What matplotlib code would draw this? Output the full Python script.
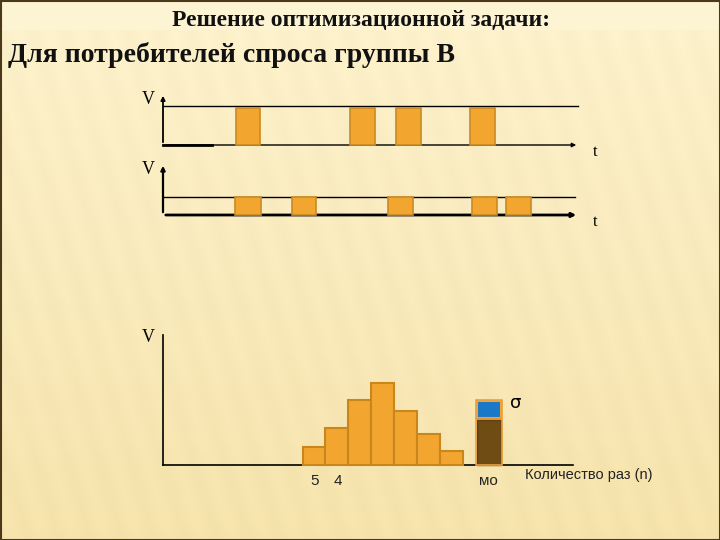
import numpy as np
import matplotlib
matplotlib.use("Agg")
import matplotlib.pyplot as plt
from matplotlib.patches import Rectangle

# ---- data (in slide pixel units) ----
title_top = "Решение оптимизационной задачи:"
title_main = "Для потребителей спроса группы В"
# panel 1 pulses (start, end) along t
pulses1_start = [236, 350, 396, 470]
pulses1_end = [260, 375, 421, 495]
pulses1_level = 37
# panel 2 pulses
pulses2_start = [235, 292, 388, 472, 506]
pulses2_end = [261, 316, 413, 497, 531]
pulses2_level = 18
# histogram
hist_left = [303, 325, 348, 371, 394, 417, 440]
hist_width = 23
hist_heights = [18, 37, 65, 82, 54, 31, 14]
mo_left = 477
mo_width = 24
mo_height = 45
sigma_height = 17
x_labels = ["5", "4", "мо"]
x_label_pos = [315, 338, 488]
xlabel_text = "Количество раз (n)"

fig = plt.figure(figsize=(7.2, 5.4), dpi=100)
ax = fig.add_axes([0, 0, 1, 1])
ax.set_xlim(0, 720)
ax.set_ylim(540, 0)
ax.axis("off")

# background gradient with faint diagonal stripes
H, W = 540, 720
yy, xx = np.mgrid[0:H, 0:W]
t = yy / H
top = np.array([253, 242, 205]) / 255
bot = np.array([246, 227, 172]) / 255
img = top[None, None, :] * (1 - t[..., None]) + bot[None, None, :] * t[..., None]
stripe = 0.006 * np.sin((xx - yy * 0.3) / 5.0)
img = img + stripe[..., None] * (yy[..., None] > 30)
img[:30] = np.array([253, 244, 212]) / 255
img = np.clip(img, 0, 1)
ax.imshow(img, extent=[0, 720, 540, 0], zorder=0, aspect="auto")
ax.add_patch(Rectangle((0.5, 0.5), 719, 539, fill=False, ec="#4a3a1a", lw=1.5, zorder=1))

# titles
ax.text(361, 20, title_top, ha="center", va="center", fontsize=17,
        fontweight="bold", family="Liberation Serif", color="#111111", zorder=5)
ax.text(8, 55, title_main, ha="left", va="center", fontsize=20,
        fontweight="bold", family="Liberation Serif", color="#111111", zorder=5)

orange = "#F2A630"
oedge = "#C88A24"
serif = "Liberation Serif"

# ---- panel 1 ----
base1 = 145
ax.annotate("", xy=(163, 93), xytext=(163, base1),
            arrowprops=dict(arrowstyle="-|>", lw=1.3, color="black", mutation_scale=6), zorder=3)
ax.plot([163, 578], [106, 106], color="black", lw=1.0, zorder=3)
ax.annotate("", xy=(579, base1), xytext=(163, base1),
            arrowprops=dict(arrowstyle="-|>", lw=1.0, color="black", mutation_scale=6), zorder=3)
ax.plot([163, 212], [base1, base1], color="black", lw=2.0, zorder=3)
for s, e in zip(pulses1_start, pulses1_end):
    ax.add_patch(Rectangle((s, base1), e - s, -pulses1_level, fc=orange, ec=oedge, lw=1.2, zorder=4))
ax.text(148, 100, "V", ha="center", va="center", fontsize=13, family=serif, zorder=5)
ax.text(595, 152, "t", ha="center", va="center", fontsize=12, family=serif, zorder=5)

# ---- panel 2 ----
base2 = 215
ax.annotate("", xy=(163, 163), xytext=(163, base2),
            arrowprops=dict(arrowstyle="-|>", lw=1.6, color="black", mutation_scale=6), zorder=3)
ax.plot([163, 575], [197, 197], color="black", lw=1.0, zorder=3)
ax.annotate("", xy=(579, base2), xytext=(163, base2),
            arrowprops=dict(arrowstyle="-|>", lw=2.0, color="black", mutation_scale=6), zorder=3)
for s, e in zip(pulses2_start, pulses2_end):
    ax.add_patch(Rectangle((s, base2), e - s, -pulses2_level, fc=orange, ec=oedge, lw=1.2, zorder=4))
ax.text(148, 170, "V", ha="center", va="center", fontsize=13, family=serif, zorder=5)
ax.text(595, 222, "t", ha="center", va="center", fontsize=12, family=serif, zorder=5)

# ---- histogram panel ----
base3 = 465
ax.plot([163, 163], [335, base3], color="black", lw=1.2, zorder=3)
ax.plot([163, 573], [base3, base3], color="black", lw=1.2, zorder=3)
for l, h in zip(hist_left, hist_heights):
    ax.add_patch(Rectangle((l, base3), hist_width, -h, fc=orange, ec="#C9861C", lw=1.5, zorder=4))
# mo bar with sigma
ax.add_patch(Rectangle((mo_left, base3), mo_width, -mo_height, fc="#6E4C14", ec="#5a3c10", lw=1.0, zorder=4))
ax.add_patch(Rectangle((mo_left, base3 - mo_height - 2), mo_width, -sigma_height,
                       fc="#1A78C8", ec="#F2A630", lw=1.5, zorder=4))
ax.plot([mo_left, mo_left + mo_width], [base3 - mo_height - 1.5] * 2, color="#E8902A", lw=1.5, zorder=4)
ax.add_patch(Rectangle((mo_left - 1, base3), mo_width + 2, -(mo_height + sigma_height + 3),
                       fill=False, ec="#E9A040", lw=1.2, zorder=4))
ax.text(516, 403, "σ", ha="center", va="center", fontsize=13, family="DejaVu Sans", zorder=5)
ax.text(148, 337, "V", ha="center", va="center", fontsize=13, family=serif, zorder=5)
for lab, x in zip(x_labels, x_label_pos):
    ax.text(x, 481, lab, ha="center", va="center", fontsize=11, family="Liberation Sans",
            color="#222222", zorder=5)
ax.text(525, 475, xlabel_text, ha="left", va="center", fontsize=10.5, family="Liberation Sans",
        color="#222222", zorder=5)

fig.savefig("out.png", dpi=100)
